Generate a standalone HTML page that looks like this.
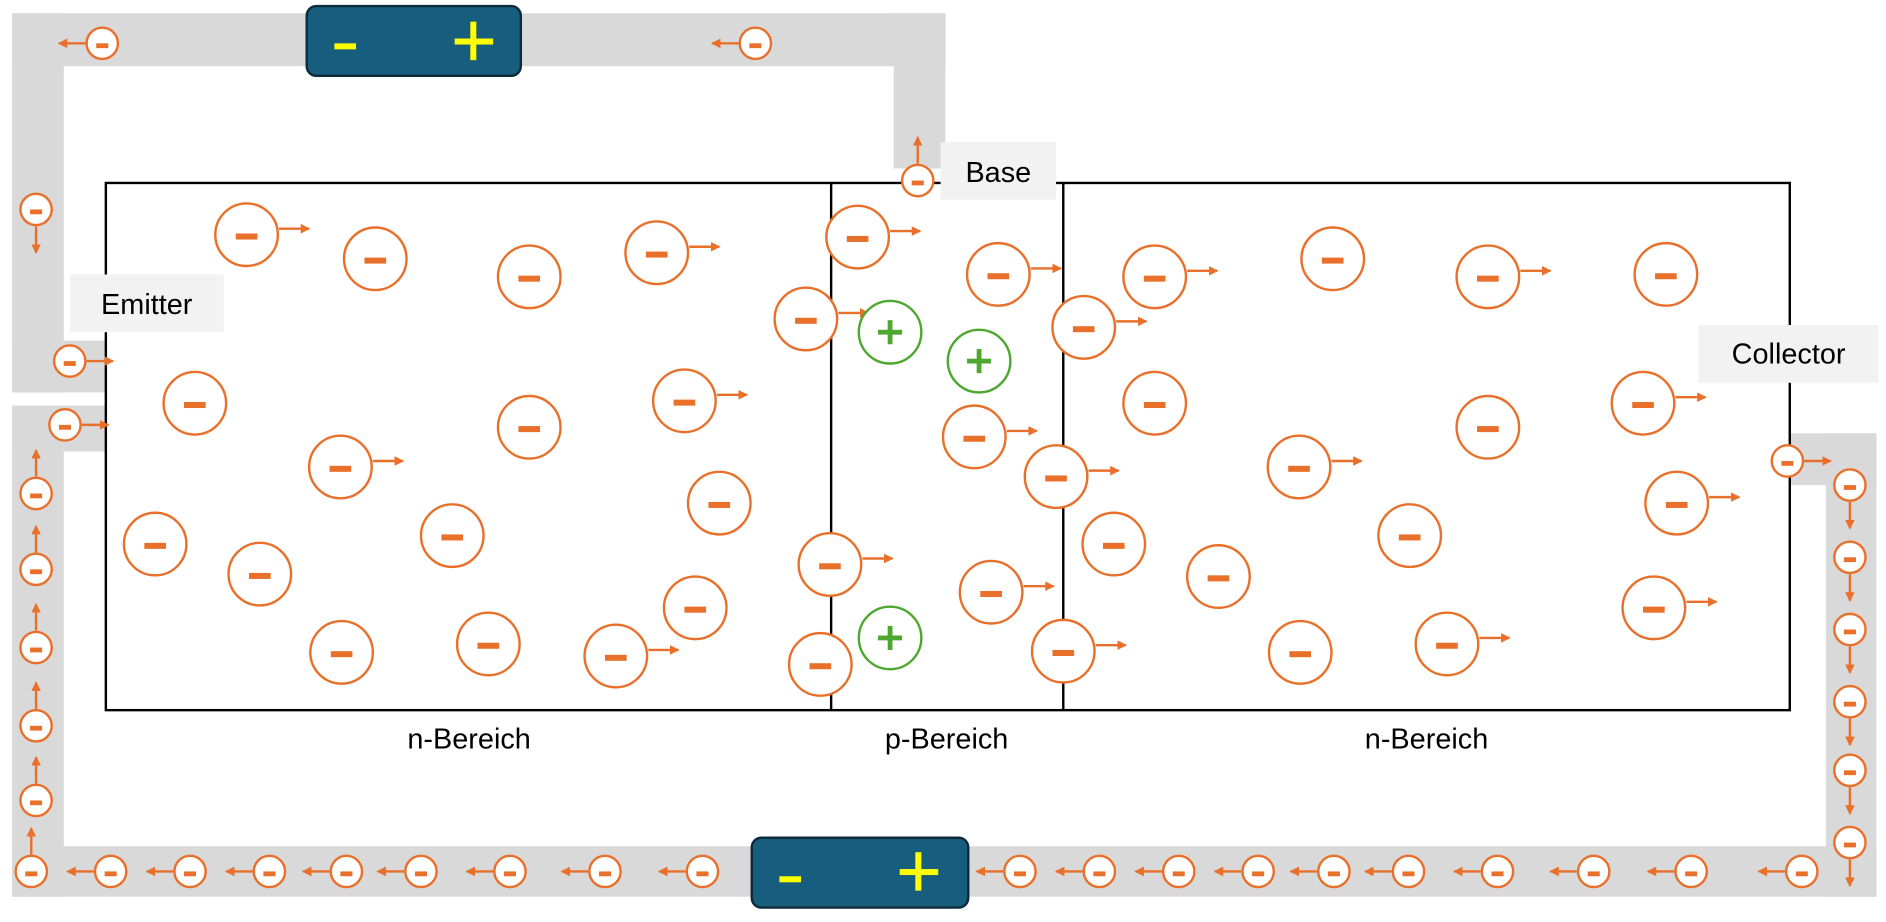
<!DOCTYPE html>
<html><head><meta charset="utf-8"><style>
html,body{margin:0;padding:0;background:#fff;}
svg{display:block;}
text{font-family:"Liberation Sans",sans-serif;}
</style></head><body>
<svg id="s" width="1886" height="922" viewBox="0 0 1568 766" preserveAspectRatio="none" xmlns="http://www.w3.org/2000/svg">
<defs>
<marker id="ah" markerWidth="8" markerHeight="8" refX="7" refY="4" orient="auto" markerUnits="userSpaceOnUse"><path d="M0,0 L8,4 L0,8 z" fill="#e8702a"/></marker>
</defs>
<g fill="#d9d9d9">
<rect x="10" y="11" width="776" height="44"/>
<rect x="10" y="11" width="43" height="315"/>
<rect x="10" y="283" width="78" height="43"/>
<rect x="743" y="11" width="43" height="129"/>
<rect x="10" y="337" width="78" height="38"/>
<rect x="10" y="337" width="43" height="408"/>
<rect x="10" y="703" width="1550" height="42"/>
<rect x="1518" y="360" width="42" height="385"/>
<rect x="1488" y="360" width="72" height="43"/>
</g>
<rect x="88" y="152" width="1400" height="438" fill="none" stroke="#000" stroke-width="2"/>
<line x1="691" y1="152" x2="691" y2="590" stroke="#000" stroke-width="2"/>
<line x1="884" y1="152" x2="884" y2="590" stroke="#000" stroke-width="2"/>
<rect x="255" y="5" width="178" height="58" rx="8" fill="#175e7e" stroke="#0d2b3a" stroke-width="2"/>
<rect x="278" y="36" width="18" height="5" fill="#ffff00"/>
<rect x="378" y="32" width="32" height="5" fill="#ffff00"/><rect x="391" y="18" width="5" height="32" fill="#ffff00"/>
<rect x="625" y="696" width="180" height="58" rx="8" fill="#175e7e" stroke="#0d2b3a" stroke-width="2"/>
<rect x="648" y="728" width="18" height="5" fill="#ffff00"/>
<rect x="748" y="722" width="32" height="5" fill="#ffff00"/><rect x="761" y="708" width="5" height="32" fill="#ffff00"/>
<rect x="782" y="118" width="96" height="48" fill="#f2f2f2"/>
<text x="830" y="151" font-size="24" text-anchor="middle">Base</text>
<rect x="58" y="228" width="128" height="48" fill="#f2f2f2"/>
<text x="122" y="261" font-size="24" text-anchor="middle">Emitter</text>
<rect x="1412" y="270" width="150" height="48" fill="#f2f2f2"/>
<text x="1487" y="302" font-size="24" text-anchor="middle">Collector</text>
<text x="390" y="622" font-size="24" text-anchor="middle">n-Bereich</text>
<text x="787" y="622" font-size="24" text-anchor="middle">p-Bereich</text>
<text x="1186" y="622" font-size="24" text-anchor="middle">n-Bereich</text>
<g id="e"></g>
</svg>
<script>
var g=document.getElementById('e'),ns="http://www.w3.org/2000/svg",O="#e8702a";
function el(t,a){var e=document.createElementNS(ns,t);for(var k in a)e.setAttribute(k,a[k]);g.appendChild(e);}
function big(x,y,ar){el('circle',{cx:x,cy:y,r:26,fill:'#fff',stroke:O,'stroke-width':2});el('rect',{x:x-9,y:y-1,width:18,height:5,fill:O});
 if(ar)el('line',{x1:x+27,y1:y-5,x2:x+52,y2:y-5,stroke:O,'stroke-width':2,'marker-end':'url(#ah)'});}
function plus(x,y){el('circle',{cx:x,cy:y,r:26,fill:'#fff',stroke:'#4ea72e','stroke-width':2});el('rect',{x:x-10,y:y-2,width:20,height:4,fill:'#4ea72e'});el('rect',{x:x-2,y:y-10,width:4,height:20,fill:'#4ea72e'});}
function sm(x,y,d){el('circle',{cx:x,cy:y,r:13,fill:'#fff',stroke:O,'stroke-width':2});el('rect',{x:x-5,y:y,width:10,height:4,fill:O});
 var L=22,a;if(d=='l')a=[x-14,y,x-14-L,y];if(d=='r')a=[x+14,y,x+14+L,y];if(d=='u')a=[x,y-14,x,y-14-L];if(d=='d')a=[x,y+14,x,y+14+L];
 el('line',{x1:a[0],y1:a[1],x2:a[2],y2:a[3],stroke:O,'stroke-width':2,'marker-end':'url(#ah)'});}
[[205,195,1],[312,215],[440,230],[546,210,1],[713,197,1],[830,228,1],[670,265,1],[960,230,1],[901,272,1],[1108,215],[1237,230,1],[1385,228],
[162,335],[283,388,1],[440,355],[569,333,1],[810,363,1],[878,396,1],[960,335],[1080,388,1],[1237,355],[1366,335,1],
[129,452],[216,477],[376,445],[598,418],[926,452],[1013,479],[1172,445],[1394,418,1],[690,469,1],[824,492,1],
[578,505],[284,542],[406,535],[512,545,1],[682,552],[884,541,1],[1081,542],[1203,535,1],[1375,505,1]].forEach(function(p){big(p[0],p[1],p[2]);});
plus(740,276);plus(814,300);plus(740,530);
sm(85,36,'l');sm(628,36,'l');sm(30,174,'d');sm(58,300,'r');sm(54,353,'r');sm(763,150,'u');
[410,473,538,603,665].forEach(function(y){sm(30,y,'u');});sm(26,724,'u');
[92,158,224,288,350,424,503,584,848,914,980,1046,1109,1171,1245,1325,1406,1498].forEach(function(x){sm(x,724,'l');});
sm(1486,383,'r');[403,463,523,583,640,700].forEach(function(y){sm(1538,y,'d');});
</script>
</body></html>
